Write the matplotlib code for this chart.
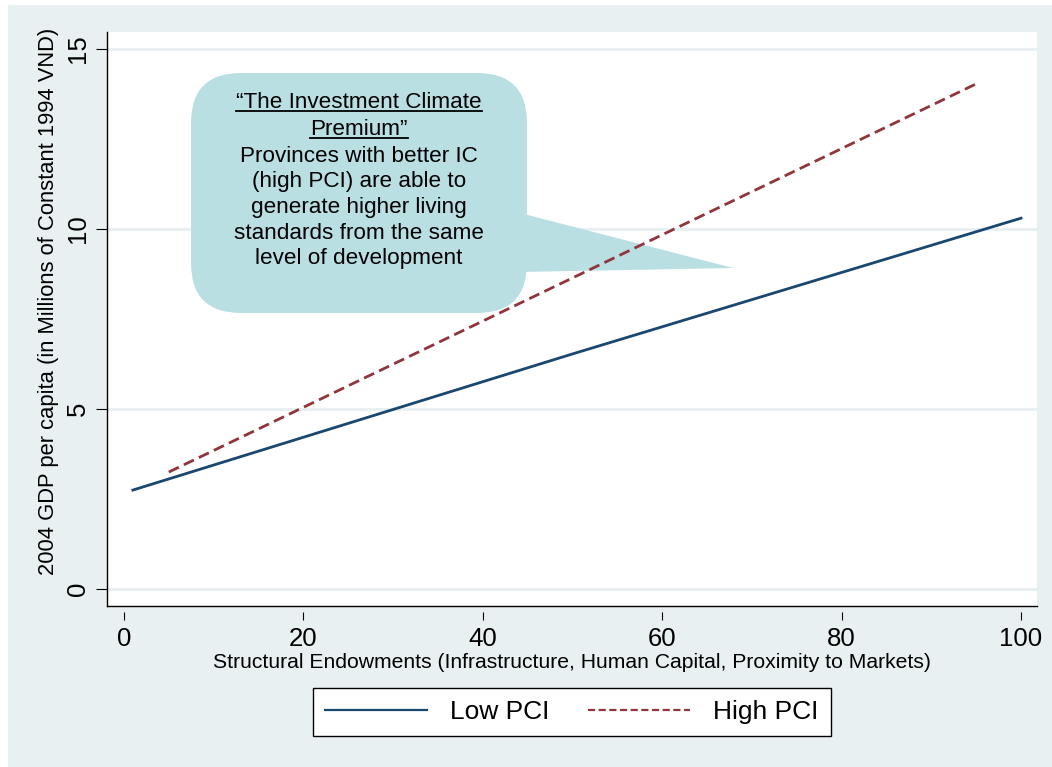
import matplotlib
matplotlib.use("Agg")
import matplotlib.pyplot as plt
from matplotlib.patches import FancyBboxPatch, Polygon, Rectangle
from matplotlib.lines import Line2D

plt.rcParams['font.family'] = ['Liberation Sans', 'DejaVu Sans']

# data (predicted GDP per capita vs structural endowments)
low_x = [1, 50, 100]
low_y = [2.75, 6.53, 10.30]
high_x = [5, 50, 95]
high_y = [3.25, 8.64, 14.03]

series_names = ['Low PCI', 'High PCI']
x_ticks = [0, 20, 40, 60, 80, 100]
y_ticks = [0, 5, 10, 15]

x_title = 'Structural Endowments (Infrastructure, Human Capital, Proximity to Markets)'
y_title = '2004 GDP per capita (in Millions of Constant 1994 VND)'
callout_lines = ['\u201cThe Investment Climate', 'Premium\u201d',
                 'Provinces with better IC', '(high PCI) are able to',
                 'generate higher living', 'standards from the same',
                 'level of development']

W, H = 1052, 767
panel_col = '#e8f0f2'
navy = '#1a476f'
maroon = '#90353b'
bubble_col = '#b9dfe2'

fig = plt.figure(figsize=(W / 100, H / 100), dpi=100, facecolor='white')
# light background panel (Stata style graph region)
fig.add_artist(Rectangle((8 / W, 0), 1 - 8 / W, (H - 5) / H, transform=fig.transFigure,
                         facecolor=panel_col, edgecolor='none', zorder=-10))

ax = fig.add_axes([107 / W, 1 - 606 / H, 930 / W, 574 / H])
ax.set_facecolor('white')
ax.set_xlim(-1.89, 101.78)
ax.set_ylim(-0.47, 15.47)

for v in y_ticks:
    ax.axhline(v, color=panel_col, lw=2.2, zorder=0.5)

# spines
for s in ['top', 'right']:
    ax.spines[s].set_visible(False)
ax.spines['left'].set_linewidth(1.0)
ax.spines['bottom'].set_position(('outward', 4))
ax.spines['bottom'].set_color('none')
ax.plot([0, 1], [0, 0], transform=ax.transAxes, color='black', lw=1.0, clip_on=False, zorder=5)

ax.set_xticks(x_ticks)
ax.set_yticks(y_ticks)
ax.set_yticklabels([str(v) for v in y_ticks], rotation=90, va='center')
ax.tick_params(axis='x', length=6, width=0.8, pad=5, labelsize=18.5)
ax.tick_params(axis='y', length=8, width=0.8, pad=4, labelsize=18.5)

# callout bubble (figure inch coords: 1 inch = 100 px)
inch = fig.dpi_scale_trans
Hi = H / 100
bubble = FancyBboxPatch((1.91, Hi - 3.13), 3.36, 2.40,
                        boxstyle='round,pad=0,rounding_size=0.5',
                        transform=inch, facecolor=bubble_col, edgecolor='none',
                        zorder=1, clip_on=False)
ax.add_patch(bubble)
pointer = Polygon([(5.20, Hi - 2.13), (7.33, Hi - 2.68), (5.20, Hi - 2.72)],
                  closed=True, transform=inch, facecolor=bubble_col, edgecolor='none',
                  zorder=1, clip_on=False)
ax.add_patch(pointer)

# lines
l1, = ax.plot(low_x, low_y, color=navy, lw=2.0, zorder=2, label=series_names[0])
l2, = ax.plot(high_x, high_y, color=maroon, lw=2.0, zorder=2, label=series_names[1])
l2.set_dashes([4.0, 2.0])

# callout text
baselines = [108, 135, 162, 187.5, 213, 239, 264]
texts = []
for line, b in zip(callout_lines, baselines):
    t = fig.text(3.59, Hi - b / 100, line, transform=inch, ha='center', va='baseline',
                 fontsize=16.2, color='black', zorder=4)
    texts.append(t)

# axis titles
fig.text(572 / W, 1 - 662 / H, x_title, ha='center', va='center', fontsize=15.2)
fig.text(49 / W, 1 - 301 / H, y_title, ha='center', va='center', rotation=90, fontsize=15.8)

# legend
leg_handles = [Line2D([], [], color=navy, lw=1.6),
               Line2D([], [], color=maroon, lw=1.6, dashes=[3.2, 1.6])]
leg = fig.legend(leg_handles, series_names, loc='center', ncol=2,
                 bbox_to_anchor=(572 / W, 1 - 712 / H), fontsize=19, frameon=True,
                 fancybox=False, edgecolor='black', facecolor='white', framealpha=1,
                 handlelength=3.85, handletextpad=0.9, columnspacing=1.45,
                 borderpad=0.45, borderaxespad=0)
leg.get_frame().set_linewidth(1.0)

# underline the title of the callout
fig.canvas.draw()
rend = fig.canvas.get_renderer()
for t in texts[:2]:
    bb = t.get_window_extent(rend)
    _, by = t.get_transform().transform(t.get_position())
    fig.add_artist(Line2D([bb.x0, bb.x1], [by - 3, by - 3], transform=None,
                          color='black', lw=1.3))

fig.savefig('out.png', dpi=100, facecolor='white')
